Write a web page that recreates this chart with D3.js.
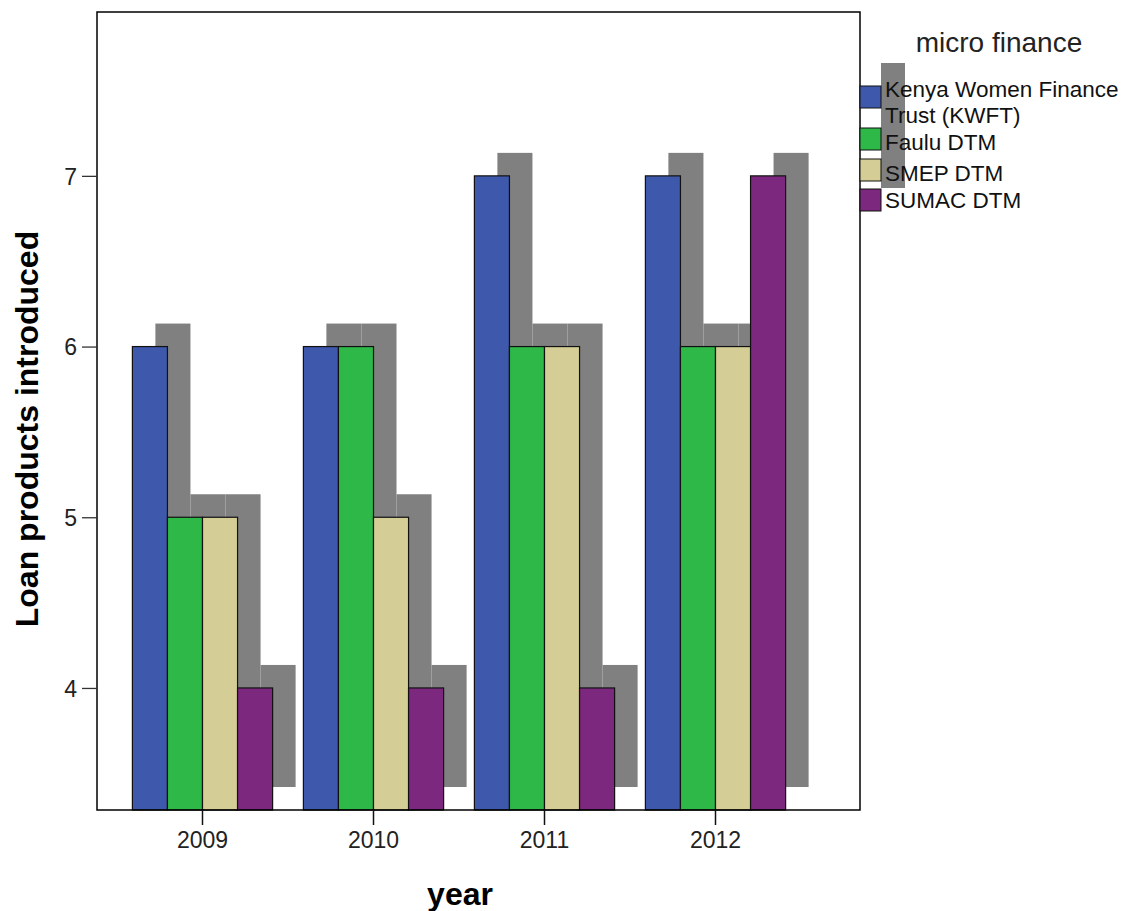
<!DOCTYPE html>
<html>
<head>
<meta charset="utf-8">
<script src="https://cdn.jsdelivr.net/npm/d3@7"></script>
<style>
  body { margin: 0; background: #fff; }
  svg { display: block; font-family: "Liberation Sans", Arial, sans-serif; }
</style>
</head>
<body>
<svg id="chart" width="1144" height="911"></svg>
<script>
// Loan products introduced per year, by micro finance institution
const years = ["2009", "2010", "2011", "2012"];
const institutions = ["Kenya Women Finance Trust (KWFT)", "Faulu DTM", "SMEP DTM", "SUMAC DTM"];
const kwft  = [6, 6, 7, 7];
const faulu = [5, 6, 6, 6];
const smep  = [5, 5, 6, 6];
const sumac = [4, 4, 4, 7];
const seriesValues = [kwft, faulu, smep, sumac];
const colors = ["#3E58AC", "#2EB848", "#D4CE96", "#7C287F"];
const yTicks = [4, 5, 6, 7];

const svg = d3.select("#chart");
const plot = { left: 97, right: 860, top: 12, bottom: 810 };
const shadowOffset = 23;
const fontFamily = "Liberation Sans, Arial, sans-serif";

const x0 = d3.scaleBand().domain(years).range([117, 801]).paddingInner(0.18).paddingOuter(0.09);
const x1 = d3.scaleBand().domain(institutions).range([0, x0.bandwidth()]);
const y = d3.scaleLinear().domain([3.285, 7.96]).range([plot.bottom, plot.top]);

const rows = years.flatMap((yr, i) => institutions.map((inst, j) => ({
  year: yr, inst, j, value: seriesValues[j][i]
})));

// frame background
svg.append("rect")
  .attr("x", plot.left).attr("y", plot.top)
  .attr("width", plot.right - plot.left).attr("height", plot.bottom - plot.top)
  .attr("fill", "#fff");

// drop shadows behind bars
svg.append("g").selectAll("rect").data(rows).join("rect")
  .attr("x", d => x0(d.year) + x1(d.inst) + shadowOffset)
  .attr("y", d => y(d.value) - shadowOffset)
  .attr("width", x1.bandwidth())
  .attr("height", d => plot.bottom - y(d.value))
  .attr("fill", "#808080");

// bars
svg.append("g").selectAll("rect").data(rows).join("rect")
  .attr("x", d => x0(d.year) + x1(d.inst))
  .attr("y", d => y(d.value))
  .attr("width", x1.bandwidth())
  .attr("height", d => plot.bottom - y(d.value))
  .attr("fill", d => colors[d.j])
  .attr("stroke", "#111").attr("stroke-width", 1.2);

// frame outline above the marks
svg.append("rect")
  .attr("x", plot.left).attr("y", plot.top)
  .attr("width", plot.right - plot.left).attr("height", plot.bottom - plot.top)
  .attr("fill", "none").attr("stroke", "#000").attr("stroke-width", 1.5);

// y axis
const yAxis = svg.append("g")
  .attr("transform", `translate(${plot.left},0)`)
  .call(d3.axisLeft(y).tickValues(yTicks).tickSize(15).tickPadding(5).tickFormat(d3.format("d")));
yAxis.select(".domain").remove();
yAxis.selectAll("line").attr("stroke", "#333").attr("stroke-width", 1.3);
yAxis.selectAll("text").attr("font-size", 23).attr("fill", "#222")
  .attr("font-family", fontFamily).attr("dy", "0.36em");

// x axis
const xAxis = svg.append("g")
  .attr("transform", `translate(0,${plot.bottom})`)
  .call(d3.axisBottom(x0).tickSize(15).tickPadding(7));
xAxis.select(".domain").remove();
xAxis.selectAll("line").attr("stroke", "#111").attr("stroke-width", 1.5);
xAxis.selectAll("text").attr("font-size", 23).attr("fill", "#222")
  .attr("font-family", fontFamily);

// axis titles
svg.append("text")
  .attr("x", 460).attr("y", 905)
  .attr("text-anchor", "middle").attr("font-size", 32).attr("font-weight", "bold")
  .text("year");
svg.append("text")
  .attr("transform", "translate(38,429) rotate(-90)")
  .attr("text-anchor", "middle").attr("font-size", 32).attr("font-weight", "bold")
  .text("Loan products introduced");

// legend
const legend = svg.append("g");
legend.append("text")
  .attr("x", 999).attr("y", 52)
  .attr("text-anchor", "middle").attr("font-size", 28).attr("fill", "#222")
  .text("micro finance");

const legendRows = [
  { lines: ["Kenya Women Finance", "Trust (KWFT)"], top: 86, h: 42, base: 97 },
  { lines: ["Faulu DTM"], top: 128, h: 31, base: 150 },
  { lines: ["SMEP DTM"], top: 159, h: 30, base: 181 },
  { lines: ["SUMAC DTM"], top: 189, h: 22, base: 208 }
];
const swX = 860, swW = 21, swH = 22;

// swatch shadows form one continuous column
legend.append("g").selectAll("rect").data(legendRows).join("rect")
  .attr("x", swX + shadowOffset - 2)
  .attr("y", d => d.top - shadowOffset)
  .attr("width", 24)
  .attr("height", d => d.h)
  .attr("fill", "#808080");

legend.append("g").selectAll("rect").data(legendRows).join("rect")
  .attr("x", swX).attr("y", d => d.top)
  .attr("width", swW).attr("height", swH)
  .attr("fill", (d, i) => colors[i])
  .attr("stroke", "#111").attr("stroke-width", 1);

legend.append("g").selectAll("text").data(legendRows).join("text")
  .attr("x", 885)
  .attr("y", d => d.base)
  .attr("font-size", 22.5).attr("fill", "#111")
  .each(function(d) {
    d3.select(this).selectAll("tspan").data(d.lines).join("tspan")
      .attr("x", 885).attr("dy", (t, k) => k === 0 ? 0 : 25.5)
      .text(t => t);
  });
</script>
</body>
</html>
